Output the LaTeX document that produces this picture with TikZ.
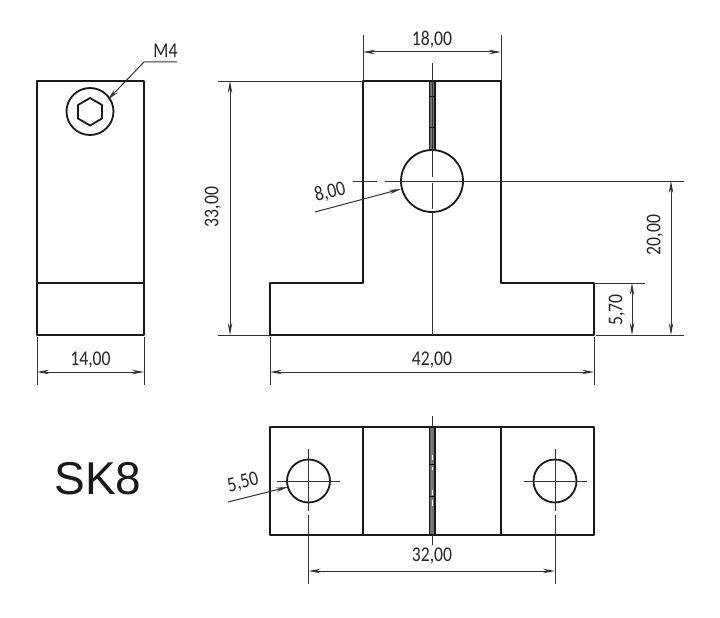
\documentclass[tikz,border=0pt]{standalone}
\usepackage{fontspec}
\usepackage{graphicx}
\setmainfont{Carlito}
\newfontfamily\titlefont{Liberation Sans}
\usetikzlibrary{arrows.meta}
\definecolor{dimgrey}{HTML}{333333}
\newcommand{\dimlabel}[1]{\scalebox{0.84}[1]{#1}}
\tikzset{
  x=1pt,y=-1pt,
  outline/.style={line width=1.8pt,color=black!90,line join=round},
  thin line/.style={line width=1pt,color=dimgrey},
  dimline/.style={thin line,{Stealth[length=12pt,width=4.5pt]}-{Stealth[length=12pt,width=4.5pt]}},
  leader/.style={thin line,-{Stealth[length=12pt,width=4.5pt]}},
  dimtext/.style={font=\fontsize{21}{21}\selectfont,color=black!85,inner sep=0pt},
  slot/.style={fill=black!55,draw=black!90,line width=1.2pt},
}
\begin{document}
\begin{tikzpicture}
\useasboundingbox (0,0) rectangle (720,618);
\fill[white] (0,0) rectangle (720,618);

% Left view
\draw[outline] (37,81) rectangle (144,335);
\draw[outline] (37,283) -- (144,283);
\draw[outline] (90,111.5) circle (23.5);
\draw[outline] (90,98) -- (102,105) -- (102,118.5) -- (90,125.5) -- (78,118.5) -- (78,105) -- cycle;
\coordinate (mfourA) at (177,62);
\coordinate (mfourB) at (144,62);
\coordinate (mfourC) at (107.5,100);
\draw[leader] (mfourA) -- (mfourB) -- (mfourC);
\node[dimtext] (mfour) at (165.5,51) {\dimlabel{M4}};
\draw[thin line] (37,337) -- (37,385);
\draw[thin line] (144,337) -- (144,385);
\draw[dimline] (37,372) -- (144,372);
\node[dimtext] (d14) at (90.5,360) {\dimlabel{14,00}};

% Main view
\draw[outline] (429.5,81) -- (363,81) -- (363,283) -- (270,283) -- (270,335) -- (594,335) -- (594,283) -- (501,283) -- (501,81) -- (435,81);
\draw[slot] (429.5,81) rectangle (435,151);
\draw[white,line width=1pt] (432,97) -- (432,101) (432,106) -- (432,110);
\draw[black,line width=1pt] (429.5,96) -- (435,96) (429.5,127) -- (435,127);
\draw[outline,fill=white] (432,181) circle (31);
\draw[thin line] (432,63) -- (432,150);
\draw[thin line,dash pattern=on 26pt off 6pt on 26pt off 6pt] (432,151) -- (432,212);
\draw[thin line] (432,212) -- (432,335);
\draw[thin line] (353,181) -- (377,181);
\draw[thin line] (385,181) -- (401,181);
\draw[thin line] (401,181) -- (684,181);
\draw[thin line] (363,35) -- (363,81);
\draw[thin line] (501,35) -- (501,81);
\draw[dimline] (363,52) -- (501,52);
\node[dimtext] (d18) at (432,40) {\dimlabel{18,00}};
\draw[thin line] (218,81) -- (363,81);
\draw[thin line] (218,335) -- (270,335);
\draw[dimline] (230,81) -- (230,335);
\node[dimtext,rotate=90] (d33) at (213,207) {\dimlabel{33,00}};
\draw[thin line] (270,337) -- (270,385);
\draw[thin line] (594,337) -- (594,385);
\draw[dimline] (270,372) -- (594,372);
\node[dimtext] (d42) at (432,360) {\dimlabel{42,00}};
\draw[thin line] (596,335) -- (684,335);
\draw[dimline] (671,181) -- (671,335);
\node[dimtext,rotate=90] (d20) at (655,235) {\dimlabel{20,00}};
\draw[thin line] (594,283) -- (645,283);
\draw[dimline] (632,283) -- (632,335);
\node[dimtext,rotate=90] (d57) at (617,310) {\dimlabel{5,70}};
\coordinate (eightA) at (315,212);
\coordinate (eightB) at (401,189);
\draw[leader] (eightA) -- (eightB);
\node[dimtext,rotate=14] (d8) at (330,192) {\dimlabel{8,00}};

% Bottom view
\draw[outline] (270,427) rectangle (594,535);
\draw[outline] (363,427) -- (363,535);
\draw[outline] (501,427) -- (501,535);
\draw[slot] (429.5,427) rectangle (435,535);
\draw[white,line width=1pt] (432,455) -- (432,460) (432,467) -- (432,470) (432,490) -- (432,495) (432,500) -- (432,506);
\draw[black,line width=1pt] (429.5,464) -- (435,464) (429.5,496) -- (435,496);
\draw[thin line] (432,416) -- (432,427);
\draw[thin line] (432,535) -- (432,545);
\draw[outline] (308.5,481) circle (21.5);
\draw[outline] (555,481) circle (21.5);
\draw[thin line] (277,481) -- (340,481);
\draw[thin line] (523.5,481) -- (586.5,481);
\draw[thin line] (308.5,449) -- (308.5,511);
\draw[thin line] (308.5,515) -- (308.5,584);
\draw[thin line] (555,449) -- (555,511);
\draw[thin line] (555,515) -- (555,584);
\draw[dimline] (308.5,571) -- (555,571);
\node[dimtext] (d32) at (432,556) {\dimlabel{32,00}};
\coordinate (fiveA) at (228,502);
\coordinate (fiveB) at (288,487);
\draw[leader] (fiveA) -- (fiveB);
\node[dimtext,rotate=14] (d55) at (243,483) {\dimlabel{5,50}};

\node[font=\titlefont\fontsize{46}{46}\selectfont,inner sep=0pt,color=black!90] (title) at (98,478.5) {SK8};
\end{tikzpicture}
\end{document}
